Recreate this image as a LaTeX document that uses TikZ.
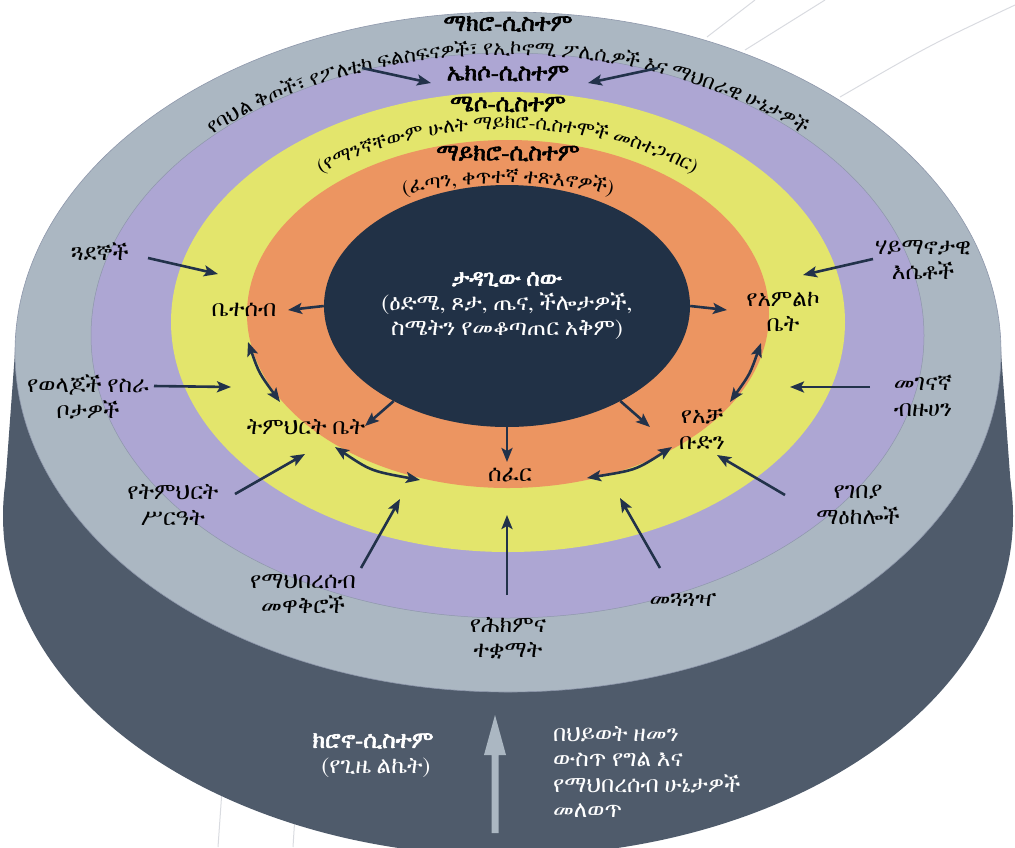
\documentclass[tikz,border=0pt]{standalone}
\usepackage{fontspec}
\usetikzlibrary{arrows.meta,shapes.geometric,decorations.text}
\IfFontExistsTF{FreeSerif.otf}{\def\ethname{FreeSerif.otf}}{%
 \IfFontExistsTF{FreeSerif}{\def\ethname{FreeSerif}}{%
  \IfFontExistsTF{Abyssinica SIL}{\def\ethname{Abyssinica SIL}}{\def\ethname{DejaVu Sans}}}}
\newfontfamily\eth{\ethname}
\newfontfamily\ethb[FakeBold=2.6]{\ethname}
\definecolor{cOuter}{HTML}{ABB7C2}
\definecolor{cSide}{HTML}{4F5B6B}
\definecolor{cExo}{HTML}{ADA6D3}
\definecolor{cMeso}{HTML}{E3E56C}
\definecolor{cMicro}{HTML}{EC9561}
\definecolor{cCore}{HTML}{213146}
\definecolor{cArrow}{HTML}{22324A}
\definecolor{cEdge}{HTML}{8E97AB}
\definecolor{cBg}{HTML}{D9DBE0}
\tikzset{
 lbl/.style={font=\eth\fontsize{23}{25.5}\selectfont, align=center, text=black, inner sep=0pt},
 ttl/.style={font=\ethb\fontsize{23.5}{26}\selectfont, text=black, inner sep=0pt},
 arr/.style={draw=cArrow, line width=2.6pt, -{Stealth[length=14pt,width=11pt,inset=3pt]}},
 darr/.style={draw=cArrow, line width=2.6pt, {Stealth[length=14pt,width=11pt,inset=3pt]}-{Stealth[length=14pt,width=11pt,inset=3pt]}},
 bgline/.style={draw=cBg, line width=1pt}
}
\begin{document}
\begin{tikzpicture}[x=1pt,y=-1pt]
\useasboundingbox (0,0) rectangle (1015,847);
% faint background lines
\draw[bgline] (755,0) -- (707,37);
\draw[bgline] (825,0) -- (745,50);
\draw[bgline] (1015,5) .. controls (930,45) .. (840,97);
\draw[bgline] (222,790) -- (218,847);
\draw[bgline] (295,815) -- (293,847);
% cylinder side
\fill[cSide] (508,516) ellipse [x radius=505, y radius=340];
\fill[cSide] (15,352) -- (1001,352) -- (1013,516) -- (3,516) -- cycle;
% top rings
\filldraw[fill=cOuter, draw=cEdge, line width=0.6pt] (508,352) ellipse [x radius=493, y radius=340];
\filldraw[fill=cExo, draw=cEdge, line width=0.5pt] (507.5,335.5) ellipse [x radius=416.5, y radius=282.5];
\fill[cMeso] (508,322) ellipse [x radius=337, y radius=230];
\fill[cMicro] (508,314) ellipse [x radius=261, y radius=174];
\node[ellipse, fill=cCore, minimum width=366pt, minimum height=242pt, inner sep=0pt,
      text=white, align=center, font=\eth\fontsize{23}{25}\selectfont] (dev) at (507,306)
      {{\ethb ታዳጊው ሰው}\\(ዕድሜ, ጾታ, ጤና, ችሎታዎች,\\ስሜትን የመቆጣጠር አቅም)};
% titles
\node[ttl] (macro) at (508,24) {ማክሮ-ሲስተም};
\node[ttl] (exo) at (508,73.5) {ኤክሶ-ሲስተም};
\node[ttl] (meso) at (508,104.5) {ሜሶ-ሲስተም};
\node[ttl] (micro) at (508,153.5) {ማይክሮ-ሲስተም};
% arced subtitles
\path[decorate, decoration={text along path, text align=center,
  text={|\eth\fontsize{20.5}{22}\selectfont|የባህል ቅጦች፣ የፖለቲካ ፍልስፍናዎች፣ የኢኮኖሚ ፖሊሲዎች እና ማህበራዊ ሁኔታዎች}}]
  (508,345) ++(200:430 and 290) arc[start angle=200, end angle=340, x radius=430, y radius=290];
\path[decorate, decoration={text along path, text align=center,
  text={|\eth\fontsize{19.8}{22}\selectfont|(የማንኛቸውም ሁለት ማይክሮ-ሲስተሞች መስተጋብር)}}]
  (508,322) ++(190:290 and 193) arc[start angle=190, end angle=350, x radius=290, y radius=193];
\path[decorate, decoration={text along path, text align=center,
  text={|\eth\fontsize{20.5}{22}\selectfont|(ፈጣን, ቀጥተኛ ተጽእኖዎች)}}]
  (508,318) ++(200:250 and 135) arc[start angle=200, end angle=340, x radius=250, y radius=135];
% microsystem labels
\node[lbl] (family) at (244,310) {ቤተሰብ};
\node[lbl] (worship) at (783,312) {የአምልኮ\\ቤት};
\node[lbl] (school) at (306,427) {ትምህርት ቤት};
\node[lbl] (peers) at (702,429) {የአቻ\\ቡድን};
\node[lbl] (neigh) at (510,475) {ሰፈር};
% exosystem labels
\node[lbl] (friends) at (100,252) {ጓደኞች};
\node[lbl] (work) at (88,397) {የወላጆች የስራ\\ቦታዎች};
\node[lbl] (relig) at (923,260) {ሃይማኖታዊ\\እሴቶች};
\node[lbl] (media) at (923,396) {መገናኛ\\ብዙሀን};
\node[lbl] (edusys) at (173,505) {የትምህርት\\ሥርዓት};
\node[lbl] (comm) at (303,594) {የማህበረሰብ\\መዋቅሮች};
\node[lbl] (health) at (508,638) {የሕክምና\\ተቋማት};
\node[lbl] (transp) at (683,600) {መጓጓዣ};
\node[lbl] (market) at (858,505) {የገበያ\\ማዕከሎች};
% chronosystem
\fill[cOuter] (491.5,833) -- (491.5,755) -- (484,755) -- (495,715) -- (506,755) -- (498.5,755) -- (498.5,833) -- cycle;
\node[ttl, text=white] (chrono) at (373,741) {ክሮኖ-ሲስተም};
\node[lbl, text=white] (chronosub) at (376,768) {(የጊዜ ልኬት)};
\node[lbl, text=white, align=left, anchor=west] (change) at (553,772) {በህይወት ዘመን\\ውስጥ የግል እና\\የማህበረሰብ ሁኔታዎች\\መለወጥ};
% coordinates for arrow ends
\coordinate (sMacroL) at (362,68); \coordinate (tMacroL) at (431,83);
\coordinate (sMacroR) at (658,68); \coordinate (tMacroR) at (588,83);
\coordinate (sFriends) at (148,258); \coordinate (tFriends) at (218,274);
\coordinate (sRelig) at (873,259); \coordinate (tRelig) at (803,275);
\coordinate (sWork) at (154,386); \coordinate (tWork) at (231,387);
\coordinate (sMedia) at (870,387); \coordinate (tMedia) at (790,387);
\coordinate (sEdu) at (235,494); \coordinate (tEdu) at (305,454);
\coordinate (sComm) at (361,568); \coordinate (tComm) at (400,499);
\coordinate (sHealth) at (507,595); \coordinate (tHealth) at (507,515);
\coordinate (sTransp) at (660,568); \coordinate (tTransp) at (620,498);
\coordinate (sMarket) at (785,495); \coordinate (tMarket) at (717,455);
\coordinate (tFamily) at (288,310);
\coordinate (tWorship) at (727,310);
\coordinate (tSchool) at (365,426);
\coordinate (tNeigh) at (507,462);
\coordinate (tPeers) at (650,427);
\coordinate (aFS) at (248,342); \coordinate (bFS) at (280,402);
\coordinate (aSN) at (335,447); \coordinate (bSN) at (420,480);
\coordinate (aNP) at (587,478); \coordinate (bNP) at (672,447);
\coordinate (aPW) at (730,402); \coordinate (bPW) at (761,343);
% outer arrows
\draw[arr] (sMacroL) -- (tMacroL);
\draw[arr] (sMacroR) -- (tMacroR);
\draw[arr] (sFriends) -- (tFriends);
\draw[arr] (sRelig) -- (tRelig);
\draw[arr] (sWork) -- (tWork);
\draw[arr] (sMedia) -- (tMedia);
\draw[arr] (sEdu) -- (tEdu);
\draw[arr] (sComm) -- (tComm);
\draw[arr] (sHealth) -- (tHealth);
\draw[arr] (sTransp) -- (tTransp);
\draw[arr] (sMarket) -- (tMarket);
% center arrows
\draw[arr] (dev.west) -- (tFamily);
\draw[arr] (dev.east) -- (tWorship);
\draw[arr] (dev.220) -- (tSchool);
\draw[arr] (dev.south) -- (tNeigh);
\draw[arr] (dev.320) -- (tPeers);
% double arrows between microsystems
\draw[darr] (aFS) .. controls (259,373) .. (bFS);
\draw[darr] (aSN) .. controls (371,471) .. (bSN);
\draw[darr] (aNP) .. controls (636,470) .. (bNP);
\draw[darr] (aPW) .. controls (750,374) .. (bPW);
\end{tikzpicture}
\end{document}
